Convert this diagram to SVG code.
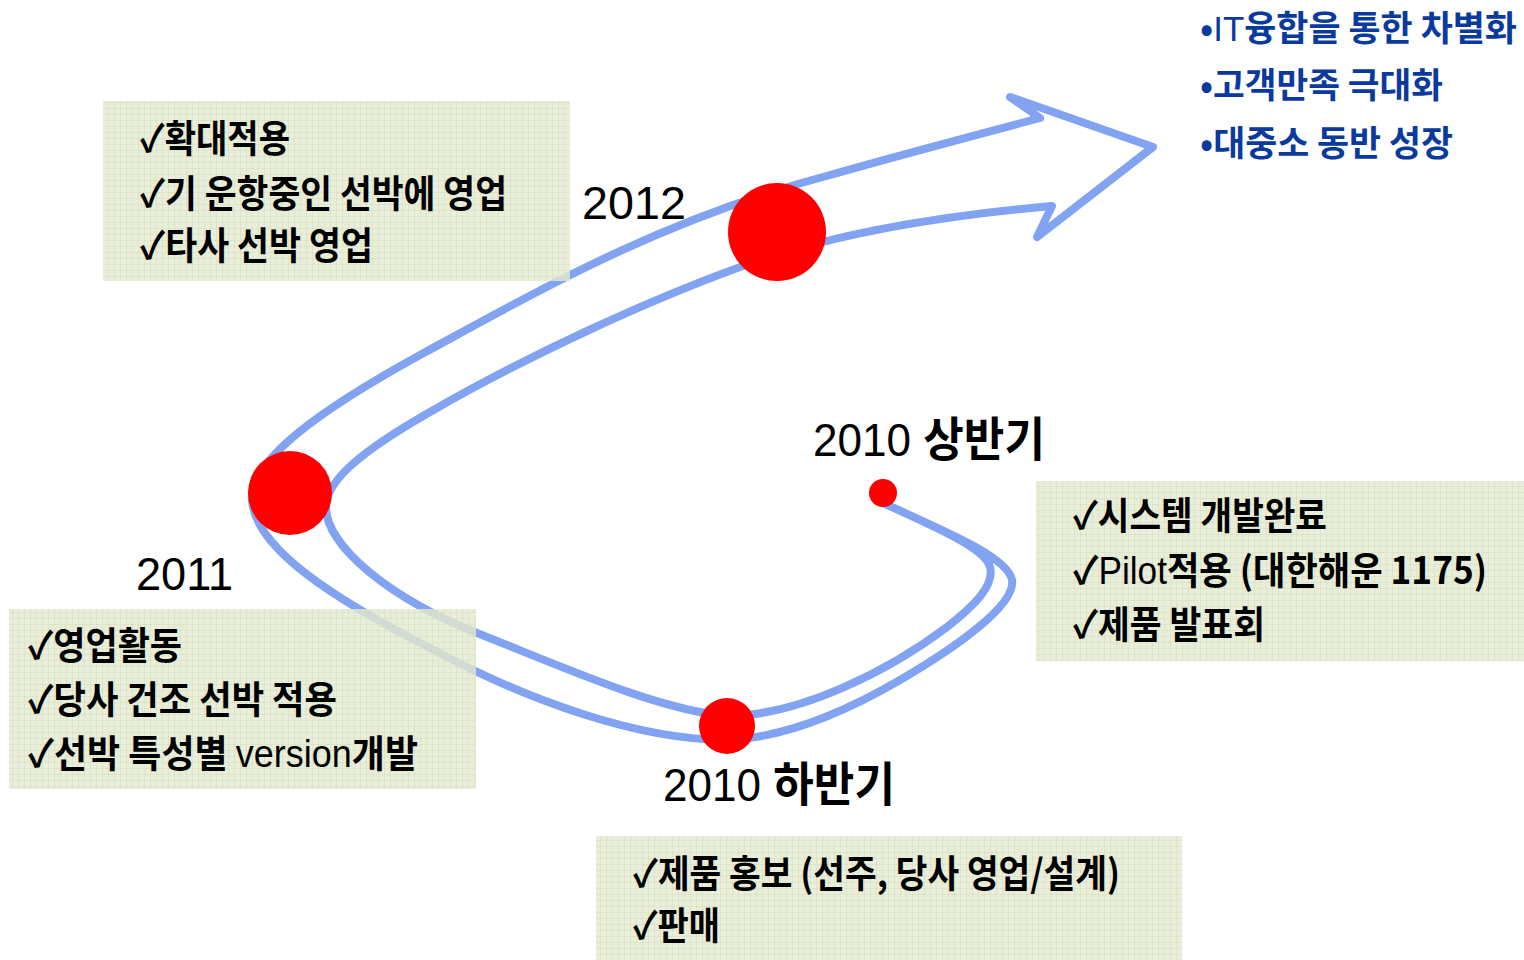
<svg xmlns="http://www.w3.org/2000/svg" width="1524" height="960" viewBox="0 0 1524 960">
<defs>
<style>
.t{font-family:"Liberation Sans","Noto Sans CJK KR",sans-serif;fill:#000}
.k{font-family:"Noto Sans CJK KR","Liberation Sans",sans-serif;font-weight:bold}
.r{font-family:"Liberation Sans","Noto Sans CJK KR",sans-serif;font-weight:normal}
.box{font-size:38px}
.yr{font-size:47px}
.blue{fill:#0A3A9E;font-size:35px}
.dot{fill:#FF0000}
.curve{fill:none;stroke:#82A2F2;stroke-width:8;stroke-linejoin:round;stroke-linecap:round}
.panel{fill:url(#tex)}
</style>
<pattern id="tex" width="6" height="6" patternUnits="userSpaceOnUse">
<rect width="6" height="6" fill="#E4EAD1" fill-opacity="0.8"/>
<path d="M0 0.5H6M0.5 0V6" stroke="#D5DDBC" stroke-opacity="0.55" stroke-width="1"/>
</pattern>
</defs>
<rect width="1524" height="960" fill="#FFFFFF"/>
<g id="connectors">
<path class="curve" d="M883,503 C935,527 1008,556 1012,580 C1016,604 960,645 900,680 C840,715 780,738 727,740 C640,740 530,702 430,648 C340,602 255,550 252,500 C250,460 320,410 420,355 C540,290 660,220 830,175 C900,155 980,134 1040,118 L1010,97 L1153,147 L1037,237 L1052,206 C960,214 850,230 760,260 C650,298 520,360 430,412 C360,452 328,480 326,505 C324,545 390,600 487,637 C570,670 660,710 727,716 C800,716 890,670 947,627 C975,605 995,585 990,567 C985,548 935,527 883,503 Z"/>
</g>
<g id="node-2012">
<circle class="dot" cx="777" cy="232" r="49"/>
<text class="t yr" x="582" y="219" textLength="104" lengthAdjust="spacingAndGlyphs">2012</text>
</g>
<g id="node-2011">
<circle class="dot" cx="290" cy="493" r="42"/>
<text class="t yr" x="136" y="590" textLength="97" lengthAdjust="spacingAndGlyphs">2011</text>
</g>
<g id="node-2010b">
<circle class="dot" cx="727" cy="726" r="28"/>
<text class="t yr" x="663" y="801" textLength="232" lengthAdjust="spacingAndGlyphs">2010 <tspan class="k">하반기</tspan></text>
</g>
<g id="node-2010a">
<circle class="dot" cx="883" cy="493" r="14"/>
<text class="t yr" x="813" y="456" textLength="232" lengthAdjust="spacingAndGlyphs">2010 <tspan class="k">상반기</tspan></text>
</g>
<g id="box-2012">
<rect class="panel" x="103" y="101" width="467" height="180"/>
<text class="t box k" x="140" y="152" textLength="150" lengthAdjust="spacingAndGlyphs">✓확대적용</text>
<text class="t box k" x="140" y="207" textLength="367" lengthAdjust="spacingAndGlyphs">✓기 운항중인 선박에 영업</text>
<text class="t box k" x="140" y="259" textLength="233" lengthAdjust="spacingAndGlyphs">✓타사 선박 영업</text>
</g>
<g id="box-2011">
<rect class="panel" x="9" y="609" width="467" height="180"/>
<text class="t box k" x="28" y="659" textLength="154" lengthAdjust="spacingAndGlyphs">✓영업활동</text>
<text class="t box k" x="28" y="713" textLength="309" lengthAdjust="spacingAndGlyphs">✓당사 건조 선박 적용</text>
<text class="t box" x="28" y="767" textLength="390" lengthAdjust="spacingAndGlyphs"><tspan class="k">✓선박 특성별 </tspan><tspan class="r">version</tspan><tspan class="k">개발</tspan></text>
</g>
<g id="box-2010a">
<rect class="panel" x="1036" y="481" width="488" height="180"/>
<text class="t box k" x="1073" y="529" textLength="254" lengthAdjust="spacingAndGlyphs">✓시스템 개발완료</text>
<text class="t box" x="1073" y="584" textLength="414" lengthAdjust="spacingAndGlyphs"><tspan class="k">✓</tspan><tspan class="r">Pilot</tspan><tspan class="k">적용 (대한해운 1175)</tspan></text>
<text class="t box k" x="1073" y="638" textLength="192" lengthAdjust="spacingAndGlyphs">✓제품 발표회</text>
</g>
<g id="box-2010b">
<rect class="panel" x="596" y="836" width="586" height="124"/>
<text class="t box k" x="633" y="887" textLength="487" lengthAdjust="spacingAndGlyphs">✓제품 홍보 (선주, 당사 영업/설계)</text>
<text class="t box k" x="633" y="939" textLength="87" lengthAdjust="spacingAndGlyphs">✓판매</text>
</g>
<g id="goals">
<text class="t blue" x="1200" y="41" textLength="317" lengthAdjust="spacingAndGlyphs"><tspan class="k">•</tspan><tspan class="r">IT</tspan><tspan class="k">융합을 통한 차별화</tspan></text>
<text class="t blue k" x="1200" y="98" textLength="243" lengthAdjust="spacingAndGlyphs">•고객만족 극대화</text>
<text class="t blue k" x="1200" y="156" textLength="253" lengthAdjust="spacingAndGlyphs">•대중소 동반 성장</text>
</g>
</svg>
